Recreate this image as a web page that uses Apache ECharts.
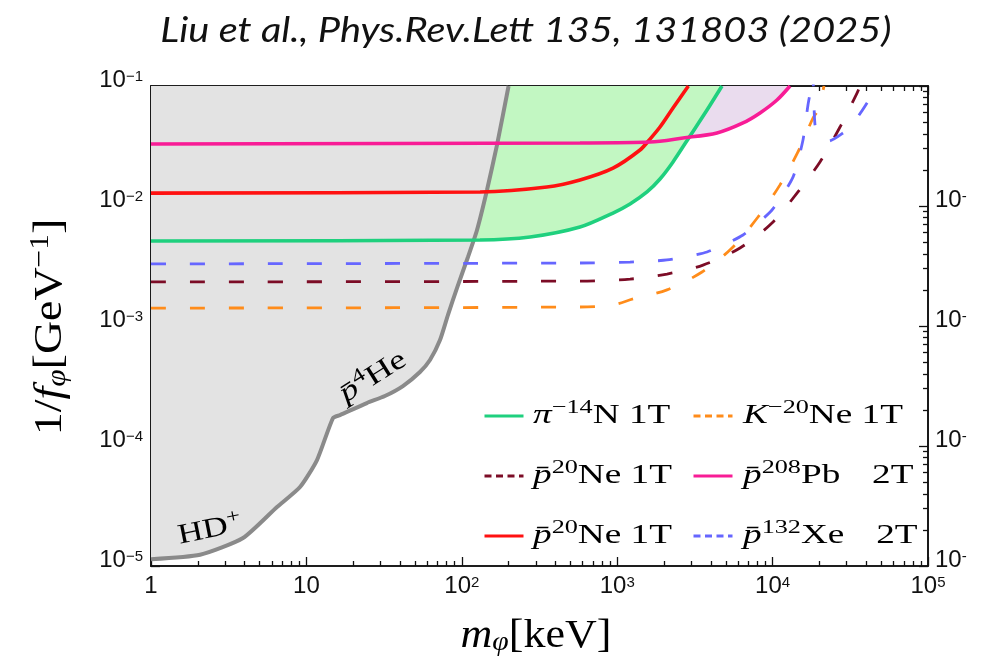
<!DOCTYPE html>
<html><head><meta charset="utf-8">
<script src="https://cdn.jsdelivr.net/npm/echarts@6/dist/echarts.min.js"></script>
<style>html,body{margin:0;padding:0;background:#fff}#c{width:994px;height:663px}</style>
</head><body><div id="c"></div>
<script>
// ---------- data (m_phi in keV, 1/f_phi in GeV^-1) ----------
const xMajor = [1, 10, 100, 1000, 10000, 100000];
const xMinor = [2,3,4,5,6,7,8,9, 20,30,40,50,60,70,80,90, 200,300,400,500,600,700,800,900,
  2000,3000,4000,5000,6000,7000,8000,9000, 20000,30000,40000,50000,60000,70000,80000,90000];
const yMajor = [1e-5, 1e-4, 1e-3, 1e-2, 1e-1];
const yMinor = [2e-5,3e-5,4e-5,5e-5,6e-5,7e-5,8e-5,9e-5, 2e-4,3e-4,4e-4,5e-4,6e-4,7e-4,8e-4,9e-4,
  2e-3,3e-3,4e-3,5e-3,6e-3,7e-3,8e-3,9e-3, 2e-2,3e-2,4e-2,5e-2,6e-2,7e-2,8e-2,9e-2];

// excluded region boundary (HD+ / pbar-4He spectroscopy)
const grayBound = [[1,1.14e-5],[2.07,1.24e-5],[3.91,1.71e-5],[6.47,3.1e-5],[9.1,4.55e-5],[11.7,7.64e-5],
  [14.83,1.71e-4],[16.45,1.81e-4],[24.5,2.28e-4],[32,2.61e-4],[41.8,3.16e-4],[53.8,4.14e-4],[62.4,5.21e-4],
  [72.4,7.64e-4],[81.5,1.24e-3],[93.1,2.07e-3],[109.6,3.76e-3],[125.3,6.31e-3],[145.3,1.36e-2],
  [168.4,3.22e-2],[200,0.1]];
const piN1T   = [[1,5.11e-3],[131,5.21e-3],[275,5.52e-3],[576,6.68e-3],[940,8.74e-3],[1209,1.04e-2],
  [1555,1.31e-2],[1885,1.68e-2],[2286,2.33e-2],[2941,3.83e-2],[3784,6.31e-2],[4724,0.1]];
const pNe1Tsolid = [[1,1.28e-2],[131,1.31e-2],[353,1.44e-2],[576,1.65e-2],[940,2.07e-2],[1402,2.93e-2],
  [1626,3.61e-2],[1885,4.55e-2],[2286,6.56e-2],[2870,0.1]];
const pPb2T   = [[1,3.29e-2],[576,3.35e-2],[1626,3.41e-2],[2651,3.69e-2],[4387,4.06e-2],[6451,4.92e-2],
  [8299,5.96e-2],[10670,7.64e-2],[12940,0.1]];
const pXe2T   = [[1,3.29e-3],[576,3.35e-3],[1209,3.41e-3],[2091,3.55e-3],[3784,4.14e-3],[6451,5.73e-3],
  [9910,9.26e-3],[13530,1.74e-2],[15690,3.55e-2],[16890,6.95e-2],[17660,9.6e-2],[18100,0.13],
  [18750,4.73e-2],[20180,3.76e-2],[23070,3.48e-2],[28390,4.06e-2],[32440,4.73e-2],[40480,7.22e-2],[46000,0.1]];
const pNe1Tdash = [[1,2.33e-3],[576,2.37e-3],[1209,2.46e-3],[2091,2.71e-3],[3566,3.22e-3],[6170,4.47e-3],
  [9910,7.22e-3],[14560,1.31e-2],[20180,2.33e-2],[27150,4.55e-2],[34940,8.74e-2],[36500,0.1]];
const kNe1T  = [[1,1.41e-3],[576,1.44e-3],[940,1.5e-3],[1264,1.68e-3],[2091,2.0e-3],[3513,2.82e-3],
  [5478,4.47e-3],[8054,8.1e-3],[11160,1.5e-2],[14560,2.82e-2],[18200,5.41e-2],[19590,6.31e-2],[21420,0.1]];

// legend entries (series key, label rich text)
const legendCol1 = ['piN', 'pNeDash', 'pNeSolid'];
const legendCol2 = ['KNe', 'pPb', 'pXe'];
const legendText = {
  piN: '{it|π}{s|−14}{n|N 1T}',
  pNeDash: '{it|p̄}{s|20}{n|Ne 1T}',
  pNeSolid: '{it|p̄}{s|20}{n|Ne 1T}',
  KNe: '{it|K}{s|−20}{n|Ne 1T}',
  pPb: '{it|p̄}{s|208}{n|Pb}{g| }{n|2T}',
  pXe: '{it|p̄}{s|132}{n|Xe}{g| }{n|2T}'
};

// ---------- chart ----------
const SERIF = "'Liberation Serif', 'DejaVu Serif', serif";
const SANS = "'Liberation Sans', Arial, sans-serif";
const chart = echarts.init(document.getElementById('c'), null, {renderer: 'canvas'});

const labelRich = {
  b: {fontFamily: SANS, fontSize: 24, color: '#111', lineHeight: 24},
  s: {fontFamily: SANS, fontSize: 15, color: '#111', lineHeight: 15, padding: [0, 0, 7, 0]}
};
function expOf(v) { return Math.round(Math.log10(v)); }
function xFmt(v) {
  const e = expOf(v);
  if (e === 0) return '{b|1}';
  if (e === 1) return '{b|10}';
  return '{b|10}{s|' + e + '}';
}
function yFmt(v) { return '{b|10}{s|−' + (-expOf(v)) + '}'; }
function yFmtR(v) { return expOf(v) === -1 ? '' : '{b|10}{s|-}'; }

const axisLine = {show: true, onZero: false, lineStyle: {color: '#111', width: 1.6}};
function mkX(pos, vals, len, labels) {
  return {
    type: 'log', logBase: 10, min: 1, max: 100000, position: pos, gridIndex: 0,
    axisLine: axisLine, splitLine: {show: false},
    axisTick: {show: true, inside: true, length: len, customValues: vals, lineStyle: {color: '#111', width: 1.3}},
    axisLabel: labels ? {show: true, customValues: xMajor, margin: 8, formatter: xFmt, rich: labelRich}
                      : {show: false}
  };
}
function mkY(pos, vals, len, fmt) {
  return {
    type: 'log', logBase: 10, min: 1e-5, max: 1e-1, position: pos, gridIndex: 0,
    axisLine: axisLine, splitLine: {show: false},
    axisTick: {show: true, inside: true, length: len, customValues: vals, lineStyle: {color: '#111', width: 1.3}},
    axisLabel: fmt ? {show: true, customValues: yMajor, margin: pos === 'left' ? 8 : 7, formatter: fmt,
                      rich: labelRich, padding: [0, 0, 12, 0]}
                   : {show: false}
  };
}

function lineSeries(name, data, color, dashed, z, smooth) {
  return {
    type: 'line', name: name, data: data, symbol: 'none', showSymbol: false,
    smooth: smooth === undefined ? 0.3 : smooth,
    z: z || 5, silent: true, animation: false,
    lineStyle: {color: color, width: dashed ? 2.8 : 3.6, type: dashed ? [15, 24] : 'solid', cap: 'butt'},
    itemStyle: {color: color}
  };
}
function areaSeries(name, data, fill, z) {
  return {
    type: 'line', name: name, data: data, symbol: 'none', showSymbol: false, smooth: 0.3,
    z: z, silent: true, animation: false,
    lineStyle: {width: 0, opacity: 0},
    areaStyle: {color: fill, opacity: 1, origin: 'end'}
  };
}

function mkLegend(left, names) {
  return {
    orient: 'vertical', left: left, top: 409, padding: 0, itemGap: 46, itemWidth: 39, itemHeight: 14,
    selectedMode: false,
    data: names.map(n => {
      const dashed = (n === 'pNeDash' || n === 'KNe' || n === 'pXe');
      return {name: n, itemStyle: {opacity: 0}, lineStyle: {type: dashed ? [7, 4.5] : 'solid', width: 3}};
    }),
    formatter: () => ' ',
    textStyle: {fontSize: 12, lineHeight: 14, color: '#fff'}
  };
}

// serif math-like text, horizontally stretched like the reference typesetting
const mathRich = (fs, sfs, up) => ({
  it: {fontFamily: SERIF, fontStyle: 'italic', fontSize: fs, color: '#111'},
  n: {fontFamily: SERIF, fontSize: fs, color: '#111'},
  g: {fontFamily: SERIF, fontSize: fs, color: '#111', width: 23},
  s: {fontFamily: SERIF, fontSize: sfs, color: '#111', padding: [0, 0, up, 0]},
  sub: {fontFamily: SERIF, fontStyle: 'italic', fontSize: sfs, color: '#111', padding: [up - 2, 0, 0, 0]}
});
function legendLabel(key, x, y) {
  return {type: 'text', x: x, y: y, scaleX: 1.38, z: 20, silent: true,
    style: {text: legendText[key], align: 'left', verticalAlign: 'middle', rich: mathRich(27, 19, 15)}};
}
const legRowsY = [416, 476, 536];

const option = {
  backgroundColor: '#fff',
  animation: false,
  grid: {left: 151, right: 66, top: 86, bottom: 97, containLabel: false, outerBoundsMode: 'none'},
  xAxis: [mkX('bottom', xMajor, 9, true), mkX('bottom', xMinor, 5, false),
          mkX('top', xMajor, 9, false), mkX('top', xMinor, 5, false)],
  yAxis: [mkY('left', yMajor, 9, yFmt), mkY('left', yMinor, 5, null),
          mkY('right', yMajor, 9, yFmtR), mkY('right', yMinor, 5, null)],
  legend: [mkLegend(483, legendCol1), mkLegend(692, legendCol2)],
  series: [
    areaSeries('fillPb', pPb2T, '#eadcee', 1),
    areaSeries('fillPi', piN1T, '#c2f7c2', 2),
    Object.assign(areaSeries('fillExcl', grayBound, '#e3e3e3', 3),
      {lineStyle: {color: '#8a8a8a', width: 4}, smooth: 0.2}),
    lineSeries('piN', piN1T, '#1fd07e', false, 5),
    lineSeries('pNeSolid', pNe1Tsolid, '#ff1111', false, 5),
    lineSeries('pPb', pPb2T, '#f81c96', false, 5),
    lineSeries('KNe', kNe1T, '#ff8c1a', true, 5),
    lineSeries('pNeDash', pNe1Tdash, '#7c0c26', true, 5),
    lineSeries('pXe', pXe2T, '#6666ff', true, 5, 0.2)
  ],
  graphic: [
    {type: 'text', x: 526, y: 31, z: 10, scaleX: 1.17, style: {text: 'Liu et al., Phys.Rev.Lett 135, 131803 (2025)',
      font: "italic 34px Lato, 'Open Sans', sans-serif", fill: '#111', align: 'center', verticalAlign: 'middle'}},
    {type: 'text', x: 536, y: 636, z: 10, scaleX: 1.1, style: {text: '{it|m}{sub|φ}{n|[keV]}', align: 'center', verticalAlign: 'middle',
      rich: mathRich(40, 27, 16)}},
    {type: 'text', x: 50, y: 327, rotation: Math.PI / 2, scaleX: 1.12, z: 10,
      style: {text: '{n|1/}{it|f}{sub|φ}{n|[GeV}{s|−1}{n|]}', align: 'center', verticalAlign: 'middle',
      rich: mathRich(41, 28, 18)}},
    {type: 'text', x: 210, y: 530, rotation: 0.2, scaleX: 1.25, z: 10,
      style: {text: '{n|HD}{s|+}', align: 'center', verticalAlign: 'middle', rich: mathRich(28, 20, 16)}},
    {type: 'text', x: 373, y: 377, rotation: 0.56, scaleX: 1.3, z: 10,
      style: {text: '{it|p̄}{s|4}{n|He}', align: 'center', verticalAlign: 'middle', rich: mathRich(28, 20, 16)}},
    legendLabel('piN', 533, legRowsY[0]),
    legendLabel('pNeDash', 533, legRowsY[1]),
    legendLabel('pNeSolid', 533, legRowsY[2]),
    legendLabel('KNe', 743, legRowsY[0]),
    legendLabel('pPb', 743, legRowsY[1]),
    legendLabel('pXe', 743, legRowsY[2])
  ]
};
chart.setOption(option);
</script></body></html>
